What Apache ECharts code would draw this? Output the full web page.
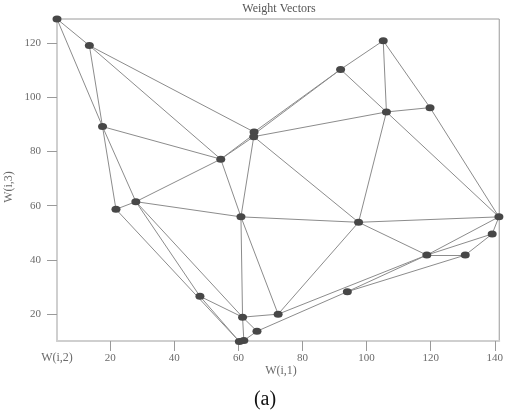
<!DOCTYPE html>
<html>
<head>
<meta charset="utf-8">
<script src="https://cdn.jsdelivr.net/npm/echarts@6/dist/echarts.min.js"></script>
<style>html,body{margin:0;padding:0;background:#fff;}#c{width:506px;height:416px;}</style>
</head>
<body>
<div id="c"></div>
<script>
// Weight vector nodes: W(i,1) on x, W(i,3) on y
const nodeNames = ['A','B','C','D','E','F','G','H','I1','I2','J','K1','K2','L','M','N','O','P','Q','R','S','T','U','V','W'];
const nodeX = [3.4, 13.5, 17.6, 21.8, 28.0, 48.0, 54.5, 60.8, 60.3, 61.7, 61.3, 64.9, 64.8, 65.8, 72.4, 91.9, 94.0, 97.5, 105.2, 106.2, 119.8, 118.8, 130.8, 139.2, 141.3];
const nodeY = [128.9, 119.1, 89.2, 58.7, 61.5, 26.6, 77.2, 55.9, 9.9, 10.3, 18.9, 87.2, 85.5, 13.7, 20.0, 110.3, 28.3, 53.9, 120.9, 94.6, 96.2, 41.8, 41.8, 49.6, 55.9];
// Neighbourhood connections (pairs of node names)
const edges = [
  ['A','B'],['A','C'],['B','C'],['B','G'],['B','K1'],['C','G'],['C','D'],['C','E'],
  ['D','E'],['D','I1'],['E','G'],['E','H'],['E','F'],['E','J'],['F','I1'],['F','J'],
  ['G','K2'],['G','N'],['G','H'],['K1','N'],['K2','R'],['K2','P'],['K2','H'],['K1','K2'],
  ['N','Q'],['N','R'],['Q','R'],['Q','S'],['S','W'],['R','S'],['R','W'],['R','P'],
  ['H','P'],['P','W'],['P','T'],['P','M'],['H','J'],['H','M'],['J','I2'],['J','M'],
  ['J','L'],['L','I2'],['L','O'],['M','T'],['O','U'],['O','T'],['T','U'],['T','W'],
  ['T','V'],['U','V'],['V','W'],['I1','I2']
];
const xTicks = [20, 40, 60, 80, 100, 120, 140];
const yTicks = [20, 40, 60, 80, 100, 120];

const serif = 'Liberation Serif';
const chart = echarts.init(document.getElementById('c'), null, {renderer: 'canvas'});
const nodes = nodeNames.map((n, i) => ({name: n, value: [nodeX[i], nodeY[i]]}));
const links = edges.map(e => ({source: nodeNames.indexOf(e[0]), target: nodeNames.indexOf(e[1])}));

chart.setOption({
  animation: false,
  backgroundColor: '#fff',
  grid: {left: 57, right: 3, top: 19, bottom: 75, show: true, borderColor: '#9a9a9a', borderWidth: 1, backgroundColor: 'transparent'},
  xAxis: {
    type: 'value', min: 3.4, max: 141.4,
    axisLine: {show: true, onZero: false, lineStyle: {color: '#cfcfcf', width: 2}},
    axisTick: {show: true, customValues: xTicks, length: 10, lineStyle: {color: '#9a9a9a'}},
    axisLabel: {show: true, customValues: xTicks, margin: 12, color: '#6a6a6a', fontFamily: serif, fontSize: 11},
    splitLine: {show: false}
  },
  yAxis: {
    type: 'value', min: 10.1, max: 128.9,
    axisLine: {show: true, onZero: false, lineStyle: {color: '#cfcfcf', width: 2}},
    axisTick: {show: true, customValues: yTicks, length: 10, lineStyle: {color: '#9a9a9a'}},
    axisLabel: {show: true, customValues: yTicks, margin: 16, color: '#6a6a6a', fontFamily: serif, fontSize: 11},
    splitLine: {show: false}
  },
  graphic: [
    {type: 'text', x: 279, y: 9, style: {text: 'Weight Vectors', fill: '#555', font: '12px "Liberation Serif"', align: 'center', verticalAlign: 'middle'}},
    {type: 'text', x: 57, y: 358, style: {text: 'W(i,2)', fill: '#6a6a6a', font: '12px "Liberation Serif"', align: 'center', verticalAlign: 'middle'}},
    {type: 'text', x: 281, y: 371, style: {text: 'W(i,1)', fill: '#6a6a6a', font: '12px "Liberation Serif"', align: 'center', verticalAlign: 'middle'}},
    {type: 'text', x: 9, y: 187, rotation: Math.PI / 2, style: {text: 'W(i,3)', fill: '#6a6a6a', font: '12px "Liberation Serif"', align: 'center', verticalAlign: 'middle'}},
    {type: 'text', x: 265, y: 400, style: {text: '(a)', fill: '#111', font: '20px "Liberation Serif"', align: 'center', verticalAlign: 'middle'}}
  ],
  series: [{
    type: 'graph',
    coordinateSystem: 'cartesian2d',
    data: nodes,
    links: links,
    symbol: 'circle',
    symbolSize: [9, 7],
    itemStyle: {color: '#474747'},
    lineStyle: {color: '#8c8c8c', width: 1, opacity: 1, curveness: 0},
    label: {show: false},
    z: 3
  }]
});
</script>
</body>
</html>
